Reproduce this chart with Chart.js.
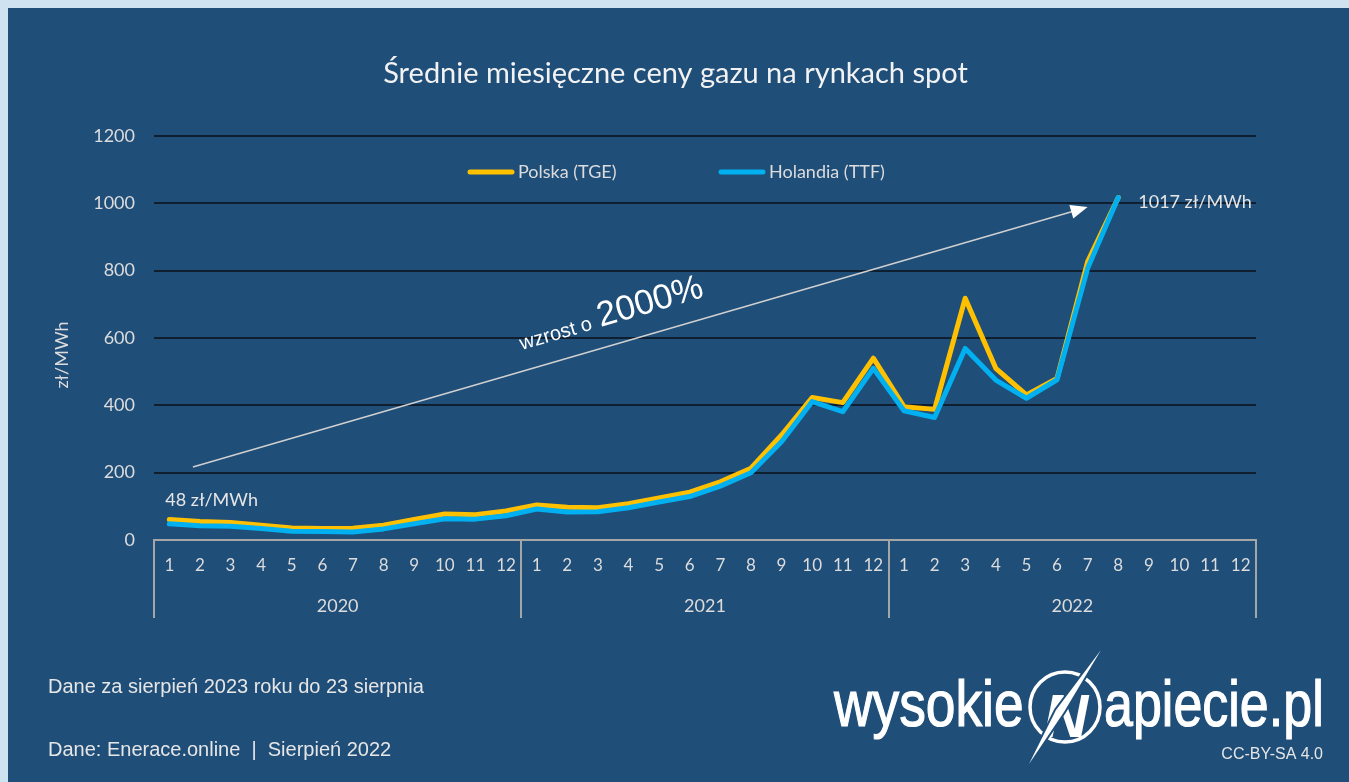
<!DOCTYPE html>
<html>
<head>
<meta charset="utf-8">
<script src="https://cdn.jsdelivr.net/npm/chart.js@4.4.1/dist/chart.umd.min.js"></script>
<style>
  html, body { margin: 0; padding: 0; background: #cfe2f0; }
  #wrap { width: 1349px; height: 782px; }
</style>
</head>
<body>
<div id="wrap"><canvas id="chart" width="1349" height="782"></canvas></div>
<script>
// ceny gazu, zł/MWh, miesięcznie od 01.2020
const months = ['1','2','3','4','5','6','7','8','9','10','11','12',
                '1','2','3','4','5','6','7','8','9','10','11','12',
                '1','2','3','4','5','6','7','8','9','10','11','12'];
const years = ['2020', '2021', '2022'];

const polska = [61, 55, 52, 44, 36, 34, 35, 44, 61, 77, 75, 86,
                104, 97, 96, 108, 125, 142, 173, 213, 312, 423, 408, 540,
                396, 388, 718, 510, 431, 480, 827, 1017];
const holandia = [48, 42, 41, 34, 26, 25, 24, 33, 48, 63, 62, 72,
                  92, 83, 84, 96, 113, 129, 160, 200, 292, 411, 381, 510,
                  384, 364, 569, 475, 421, 476, 807, 1017];

const yTicks = [0, 200, 400, 600, 800, 1000, 1200];

// strzałka "wzrost o 2000%" (indeks miesiąca, wartość)
const arrowFrom = [0.77, 217];
const arrowTo = [30.0, 989];

const YELLOW = '#ffc000';
const BLUE = '#00b0f0';
const TXT = '#dcdcdc';
const BG = '#1f4e79';

const fontLato = (size, weight) => ({ family: 'Lato', size, weight: weight || 'normal' });

const decor = {
  id: 'decor',
  beforeDraw(chart) {
    const c = chart.ctx;
    c.save();
    c.fillStyle = '#cfe2f0';
    c.fillRect(0, 0, chart.width, chart.height);
    c.fillStyle = BG;
    c.fillRect(8, 8, chart.width - 8, chart.height - 8);
    c.restore();
  },
  afterDraw(chart) {
    const c = chart.ctx;
    const xs = chart.scales.x, ys = chart.scales.y;
    const area = chart.chartArea;
    const step = xs.getPixelForValue(1) - xs.getPixelForValue(0);
    c.save();

    // podział osi na lata
    c.strokeStyle = '#a6a6a6';
    c.lineWidth = 2;
    for (let k = 0; k <= years.length; k++) {
      const x = Math.round(xs.getPixelForValue(k * 12) - step / 2);
      c.beginPath();
      c.moveTo(x, area.bottom);
      c.lineTo(x, area.bottom + 78);
      c.stroke();
    }
    c.fillStyle = TXT;
    c.font = '18px Lato';
    c.textAlign = 'center';
    c.textBaseline = 'middle';
    years.forEach((y, k) => {
      const x = (xs.getPixelForValue(k * 12 + 5) + xs.getPixelForValue(k * 12 + 6)) / 2;
      c.fillText(y, x, area.bottom + 66);
    });

    // tytuł
    c.fillStyle = '#f2f2f2';
    c.font = '29px Lato';
    c.fillText('Średnie miesięczne ceny gazu na rynkach spot', chart.width / 2 + 1, 74);

    // tytuł osi Y
    c.save();
    c.translate(62, 355);
    c.rotate(-Math.PI / 2);
    c.fillStyle = TXT;
    c.font = '18px Lato';
    c.fillText('zł/MWh', 0, 0);
    c.restore();

    // legenda
    const leg = [['Polska (TGE)', YELLOW, 468], ['Holandia (TTF)', BLUE, 719]];
    c.textAlign = 'left';
    c.font = '18px Lato';
    leg.forEach(([label, col, x]) => {
      c.strokeStyle = col;
      c.lineWidth = 5;
      c.lineCap = 'round';
      c.beginPath();
      c.moveTo(x + 2, 172);
      c.lineTo(x + 44, 172);
      c.stroke();
      c.fillStyle = TXT;
      c.fillText(label, x + 50, 172);
    });

    // etykiety wartości
    c.fillStyle = '#e6e6e6';
    c.font = '18px Lato';
    c.fillText(holandia[0] + ' zł/MWh', xs.getPixelForValue(0) - 4, ys.getPixelForValue(holandia[0]) - 24);
    const last = holandia.length - 1;
    c.fillText(holandia[last] + ' zł/MWh', xs.getPixelForValue(last) + 20, ys.getPixelForValue(holandia[last]) + 5);

    // strzałka
    const x0 = xs.getPixelForValue(arrowFrom[0]), y0 = ys.getPixelForValue(arrowFrom[1]);
    const x1 = xs.getPixelForValue(arrowTo[0]), y1 = ys.getPixelForValue(arrowTo[1]);
    const ang = Math.atan2(y1 - y0, x1 - x0);
    c.strokeStyle = '#d0d0d0';
    c.lineWidth = 1.5;
    c.lineCap = 'butt';
    c.beginPath();
    c.moveTo(x0, y0);
    c.lineTo(x1 - 14 * Math.cos(ang), y1 - 14 * Math.sin(ang));
    c.stroke();
    c.save();
    c.translate(x1, y1);
    c.rotate(ang);
    c.fillStyle = '#ffffff';
    c.beginPath();
    c.moveTo(0, 0);
    c.lineTo(-17, -7);
    c.lineTo(-17, 7);
    c.closePath();
    c.fill();
    c.restore();

    // napis wzdłuż strzałki
    const t = 0.374;
    c.save();
    c.translate(x0 + (x1 - x0) * t, y0 + (y1 - y0) * t);
    c.rotate(ang);
    c.fillStyle = '#ffffff';
    c.textBaseline = 'alphabetic';
    c.font = '20px "Liberation Sans"';
    c.fillText('wzrost o ', 0, -20.6);
    const w = c.measureText('wzrost o ').width;
    c.font = '35px "Liberation Sans"';
    c.fillText('2000%', w + 2, -20.6);
    c.restore();

    // stopka
    c.fillStyle = '#e6e6e6';
    c.font = '20px "Liberation Sans"';
    c.textBaseline = 'alphabetic';
    c.fillText('Dane za sierpień 2023 roku do 23 sierpnia', 48, 693);
    c.fillText('Dane: Enerace.online  |  Sierpień 2022', 48, 756);
    c.textAlign = 'right';
    c.font = '16px "Liberation Sans"';
    c.fillText('CC-BY-SA 4.0', 1323, 759);

    // logo
    c.textAlign = 'left';
    c.fillStyle = '#ffffff';
    c.strokeStyle = '#ffffff';
    c.lineWidth = 1.2;
    c.font = '65px "Liberation Sans"';
    c.save();
    c.translate(834, 726);
    c.scale(0.82, 1);
    c.fillText('wysokie', 0, 0);
    c.strokeText('wysokie', 0, 0);
    c.restore();
    c.save();
    c.translate(1104, 726);
    c.scale(0.8, 1);
    c.fillText('apiecie.pl', 0, 0);
    c.strokeText('apiecie.pl', 0, 0);
    c.restore();
    c.lineWidth = 3.5;
    c.beginPath();
    c.arc(1065, 707, 35, 0, Math.PI * 2);
    c.stroke();
    c.font = 'italic bold 62px "Liberation Sans"';
    c.textAlign = 'center';
    c.fillText('N', 1066, 737);
    c.fillStyle = BG;
    c.beginPath();
    c.moveTo(1101, 650);
    c.lineTo(1064, 712);
    c.lineTo(1029, 764);
    c.lineTo(1056, 710);
    c.closePath();
    c.lineWidth = 4;
    c.strokeStyle = BG;
    c.stroke();
    c.fillStyle = '#ffffff';
    c.fill();

    c.restore();
  }
};

new Chart(document.getElementById('chart'), {
  type: 'line',
  data: {
    labels: months,
    datasets: [
      { label: 'Holandia (TTF)', data: holandia, borderColor: BLUE, borderWidth: 5, order: 0 },
      { label: 'Polska (TGE)', data: polska, borderColor: YELLOW, borderWidth: 5, order: 1 }
    ]
  },
  options: {
    responsive: false,
    animation: false,
    layout: { padding: { left: 94, right: 93, top: 136, bottom: 152 } },
    elements: {
      point: { radius: 0 },
      line: { tension: 0, borderJoinStyle: 'round', borderCapStyle: 'round', fill: false }
    },
    plugins: {
      legend: { display: false },
      title: { display: false },
      tooltip: { enabled: false }
    },
    scales: {
      x: {
        offset: true,
        grid: { display: false, drawTicks: false },
        border: { display: true, color: '#a6a6a6', width: 2 },
        ticks: { color: TXT, font: fontLato(17), padding: 15, maxRotation: 0, autoSkip: false },
        afterFit: s => { s.height = 90; }
      },
      y: {
        min: 0,
        max: 1200,
        afterBuildTicks: s => { s.ticks = yTicks.map(v => ({ value: v })); },
        grid: {
          color: ctx => ctx.tick && ctx.tick.value === 0 ? 'rgba(0,0,0,0)' : '#0f1f30',
          lineWidth: 2,
          drawTicks: false
        },
        border: { display: false },
        ticks: { color: TXT, font: fontLato(18), padding: 19, callback: v => String(v) },
        afterFit: s => { s.width = 60; }
      }
    }
  },
  plugins: [decor]
});
</script>
</body>
</html>
